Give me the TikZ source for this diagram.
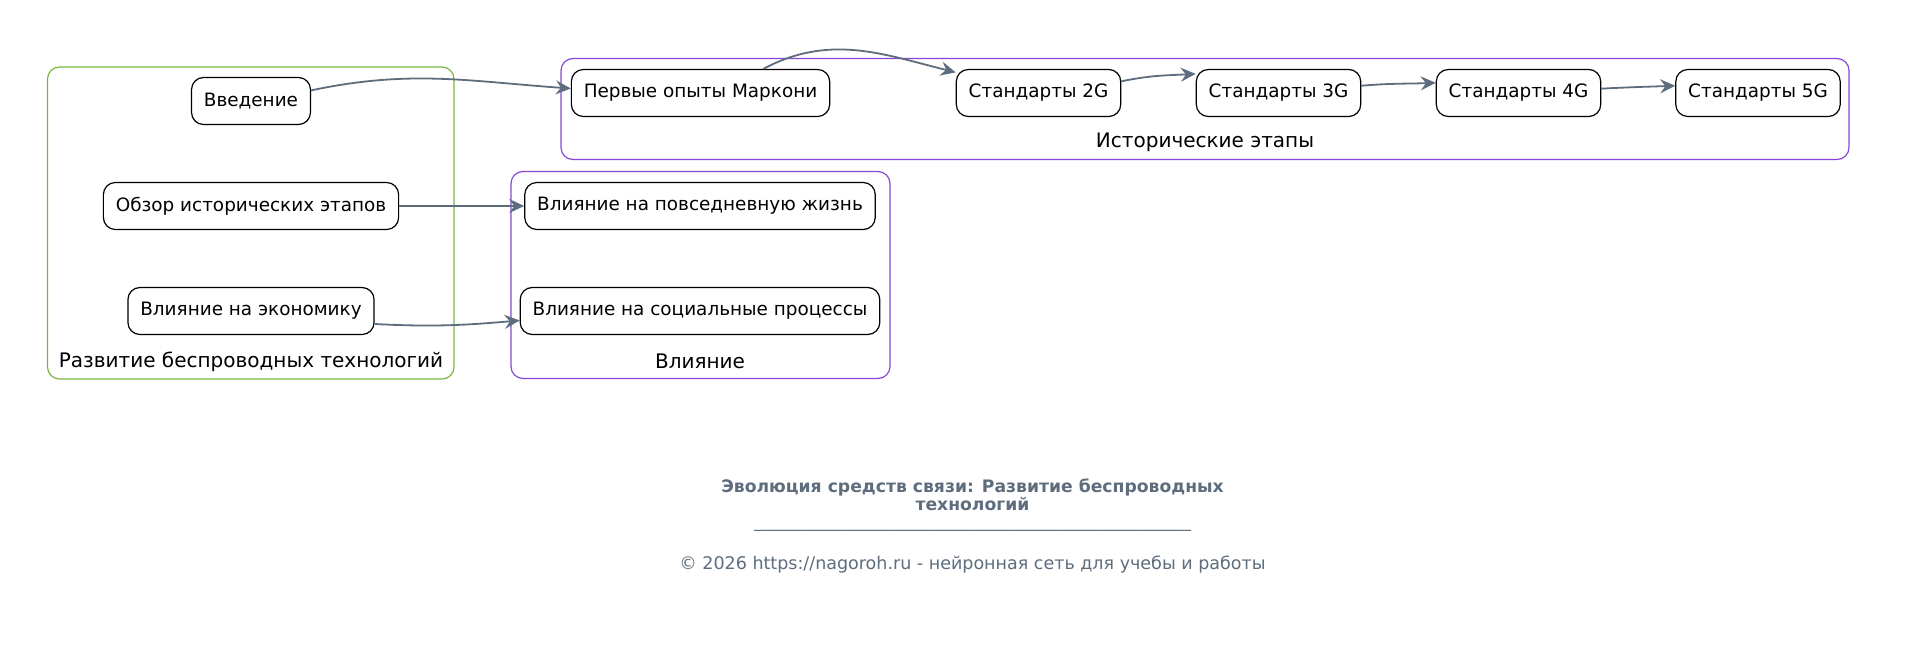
\documentclass[tikz,border=0pt]{standalone}
\usepackage{fontspec}
\setmainfont{DejaVu Sans}
\usetikzlibrary{arrows.meta}

\begin{document}
\begin{tikzpicture}[
  x=0.5pt, y=0.5pt,
  font=\fontsize{9.2}{11}\selectfont,
  stage/.style={draw=black, line width=0.6pt, rounded corners=6pt,
    minimum height=23.5pt, inner xsep=6.2pt, inner ysep=0pt, fill=white},
  frame/.style={line width=0.6pt, rounded corners=6pt},
  grplabel/.style={font=\fontsize{10}{12}\selectfont},
  link/.style={draw=edge, line width=0.9pt,
    -{Stealth[length=7.5pt, width=7pt, inset=2.6pt]}},
]

\definecolor{grpgreen}{HTML}{7CB342}
\definecolor{grppurple}{HTML}{8447D6}
\definecolor{edge}{HTML}{5D6D7E}
\definecolor{foot}{HTML}{5D6D7E}

\useasboundingbox (0,0) rectangle (1909,-647);

% group frames
\draw[frame, grpgreen]  (47.5,-67)  rectangle (454,-379);
\draw[frame, grppurple] (561,-58.5)  rectangle (1849,-159.5);
\draw[frame, grppurple] (511,-171.5) rectangle (890,-378.5);

\node[grplabel] (devlbl)  at (251,-361.5)  {Развитие беспроводных технологий};
\node[grplabel] (histlbl) at (1205,-142.5) {Исторические этапы};
\node[grplabel] (inflbl)  at (700,-361.5)  {Влияние};

% left column
\node[stage] (intro)  at (251,-101) {Введение};
\node[stage] (review) at (251,-206) {Обзор исторических этапов};
\node[stage] (econ)   at (251,-311) {Влияние на экономику};

% historical stages
\node[stage] (marconi) at (700.5,-93) {Первые опыты Маркони};
\node[stage] (g2) at (1038.5,-93) {Стандарты 2G};
\node[stage] (g3) at (1278.5,-93) {Стандарты 3G};
\node[stage] (g4) at (1518.5,-93) {Стандарты 4G};
\node[stage] (g5) at (1758,-93)   {Стандарты 5G};

% impact
\node[stage] (daily)  at (700,-206) {Влияние на повседневную жизнь};
\node[stage] (social) at (700,-311) {Влияние на социальные процессы};

% connectors
\draw[link] (intro.10) to[out=12, in=176] (marconi.178);
\draw[link] (marconi.21) to[out=28, in=166] (g2.166);
\draw[link] (g2.8) to[out=12, in=183] (g3.167);
\draw[link] (g3.5) to[out=5, in=182] (g4.173);
\draw[link] (g4.3) to[out=3, in=182] (g5.175);
\draw[link] (review.east) -- (daily.west);
\draw[link] (econ.-6) to[out=-3, in=185] (social.183);

% footer
\node[text=foot, font=\fontsize{8.6}{9}\selectfont\bfseries, align=center]
  (title) at (972.5,-495) {Эволюция средств связи: Развитие беспроводных\\технологий};
\node[text=foot, font=\fontsize{8.4}{9}\selectfont, anchor=base, text height=1pt]
  (rule) at (972.5,-527) {\_\_\_\_\_\_\_\_\_\_\_\_\_\_\_\_\_\_\_\_\_\_\_\_\_\_\_\_\_\_\_\_\_\_\_\_\_\_\_\_\_\_\_\_\_\_\_\_\_\_\_\_};
\node[text=foot, font=\fontsize{8.75}{9}\selectfont]
  (copy) at (972.5,-565) {© 2026 https://nagoroh.ru - нейронная сеть для учебы и работы};

\end{tikzpicture}
\end{document}
